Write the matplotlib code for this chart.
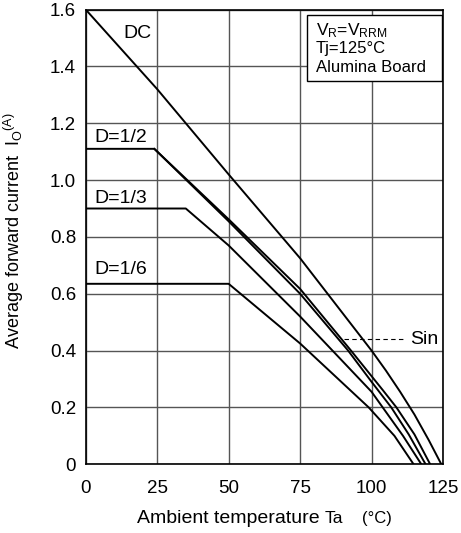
import matplotlib
matplotlib.use("Agg")
import matplotlib.pyplot as plt
from matplotlib.patches import Rectangle

plt.rcParams['font.family'] = ['Liberation Sans', 'DejaVu Sans']
plt.rcParams['mathtext.fontset'] = 'custom'
plt.rcParams['mathtext.rm'] = 'Liberation Sans'
plt.rcParams['mathtext.it'] = 'Liberation Sans'

# derating curves (Ta in degC, Io in A)
dc_x = [0, 25, 50, 75, 100, 105, 110, 115, 120, 124.4]
dc_y = [1.6, 1.32, 1.02, 0.725, 0.40, 0.33, 0.255, 0.175, 0.085, 0]

sin_x = [24, 50, 75, 92.8, 100, 104, 108.7, 115, 120.5]
sin_y = [1.11, 0.862, 0.617, 0.40, 0.31, 0.26, 0.2, 0.105, 0]

d2_x = [0, 24, 50, 75, 91.8, 100, 106.9, 113, 118.9]
d2_y = [1.11, 1.11, 0.855, 0.60, 0.40, 0.29, 0.2, 0.105, 0]

d3_x = [0, 35, 50, 75, 100, 103.9, 111, 117.4]
d3_y = [0.90, 0.90, 0.77, 0.52, 0.255, 0.2, 0.1, 0]

d6_x = [0, 50, 75, 99, 108, 114.7]
d6_y = [0.635, 0.635, 0.425, 0.2, 0.1, 0]

xticks = [0, 25, 50, 75, 100, 125]
yticks = [0, 0.2, 0.4, 0.6, 0.8, 1.0, 1.2, 1.4, 1.6]
ytick_labels = ['0', '0.2', '0.4', '0.6', '0.8', '1.0', '1.2', '1.4', '1.6']

fig = plt.figure(figsize=(4.61, 5.33), dpi=100)
ax = fig.add_axes([0.186, 0.129, 0.775, 0.853])

for xs, ys in [(dc_x, dc_y), (sin_x, sin_y), (d2_x, d2_y), (d3_x, d3_y), (d6_x, d6_y)]:
    ax.plot(xs, ys, color='black', lw=1.4, zorder=3, solid_joinstyle='round')

ax.set_xlim(0, 125)
ax.set_ylim(0, 1.6)
ax.set_xticks(xticks)
ax.set_xticklabels([str(t) for t in xticks])
ax.set_yticks(yticks)
ax.set_yticklabels(ytick_labels)
ax.tick_params(axis='both', length=0, labelsize=13.5)
ax.tick_params(axis='x', pad=11)
ax.tick_params(axis='y', pad=7)
ax.grid(True, color='#555555', lw=1.0)
for s in ax.spines.values():
    s.set_linewidth(1.2)

# curve labels
ax.text(13, 1.50, 'DC', fontsize=14)
ax.text(3, 1.135, 'D=1/2', fontsize=14)
ax.text(3, 0.92, 'D=1/3', fontsize=14)
ax.text(3, 0.668, 'D=1/6', fontsize=14)
ax.plot([90.5, 111.5], [0.44, 0.44], color='black', lw=0.8, ls=(0, (4, 3)), zorder=3)
ax.text(113.6, 0.44, 'Sin', fontsize=14, va='center',
        bbox=dict(facecolor='white', edgecolor='none', pad=0.5))

# conditions box
ax.add_patch(Rectangle((77.3, 1.347), 47.3, 0.233, facecolor='white',
                       edgecolor='black', lw=1.0, zorder=4))
ax.text(80.5, 1.525, r'V$_\mathrm{R}$=V$_\mathrm{RRM}$', fontsize=12.5, va='center', zorder=5)
ax.text(80.5, 1.463, 'Tj=125°C', fontsize=12, va='center', zorder=5)
ax.text(80.5, 1.397, 'Alumina Board', fontsize=12, va='center', zorder=5)

fig.text(0.297, 0.028, 'Ambient temperature', fontsize=14, va='center')
fig.text(0.705, 0.028, 'Ta', fontsize=12.5, va='center')
fig.text(0.785, 0.028, '(°C)', fontsize=12, va='center')
fig.text(0.03, 0.567, r'Average forward current  I$_\mathrm{O}$$^\mathrm{(A)}$',
         fontsize=13, rotation=90, ha='center', va='center')

fig.savefig('out.png', dpi=100)
